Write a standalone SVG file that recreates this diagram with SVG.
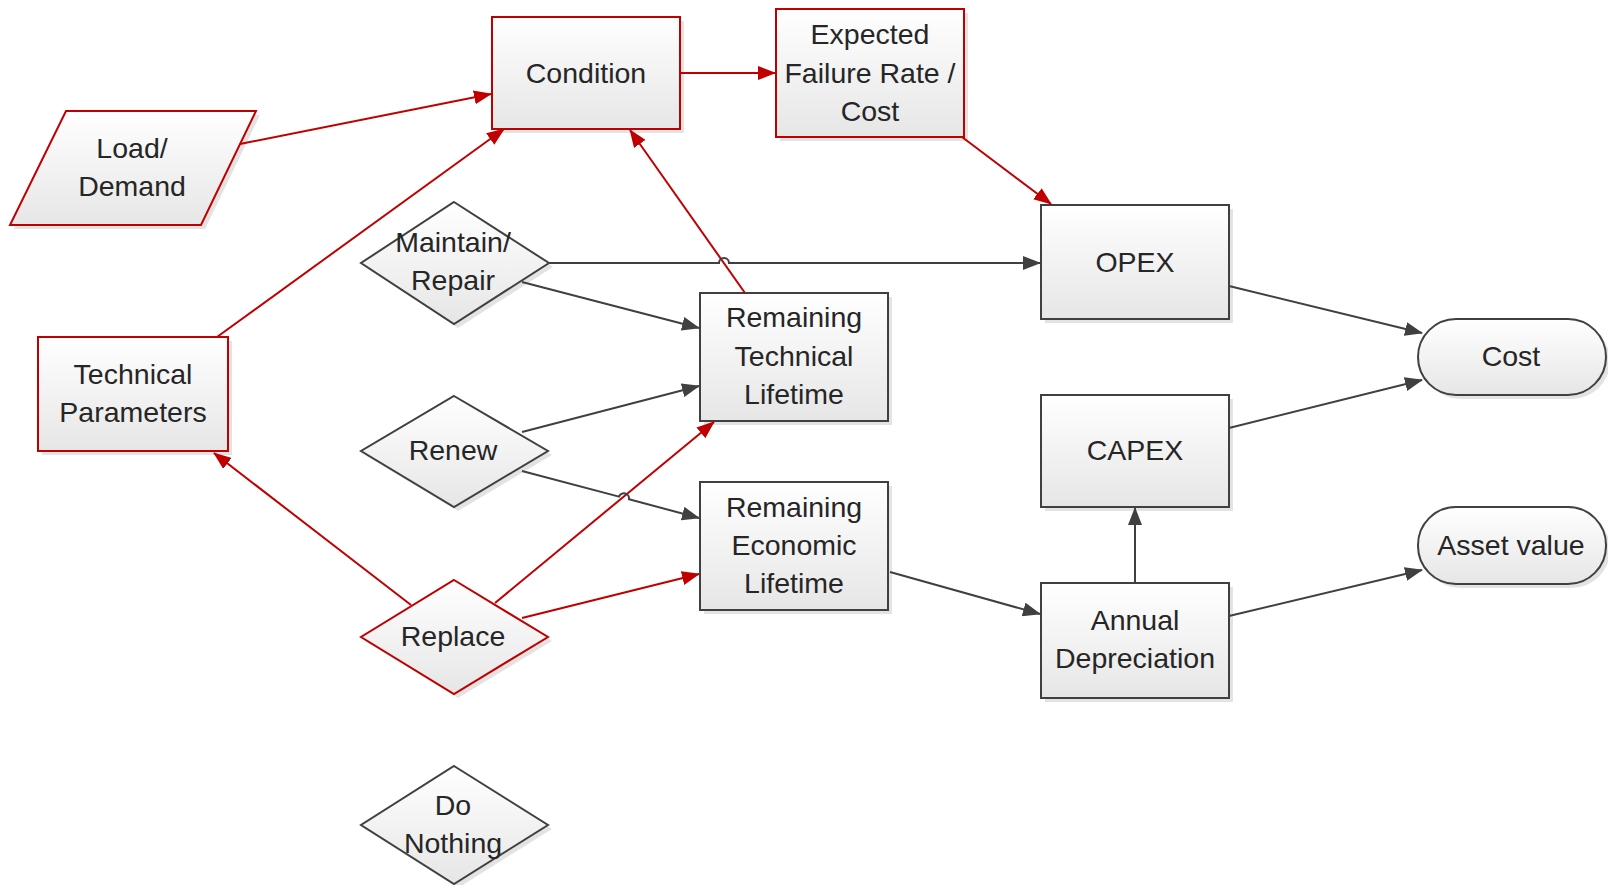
<svg xmlns="http://www.w3.org/2000/svg" width="1608" height="885" viewBox="0 0 1608 885">
<defs>
<linearGradient id="g" x1="0" y1="0" x2="0" y2="1">
<stop offset="0" stop-color="#ffffff"/>
<stop offset="1" stop-color="#e6e6e6"/>
</linearGradient>
<marker id="ar" markerUnits="userSpaceOnUse" markerWidth="18" markerHeight="14" refX="17" refY="7" orient="auto">
<path d="M0,0 L18,7 L0,14 z" fill="#c00000"/>
</marker>
<marker id="ag" markerUnits="userSpaceOnUse" markerWidth="18" markerHeight="14" refX="17" refY="7" orient="auto">
<path d="M0,0 L18,7 L0,14 z" fill="#404040"/>
</marker>
</defs>
<style>
.r{fill:url(#g);stroke:#c00000;stroke-width:2}
.k{fill:url(#g);stroke:#404040;stroke-width:2}
.sh{fill:#d0d0d0;opacity:0.6}
text{font-family:"Liberation Sans",Arial,sans-serif;font-size:28.5px;fill:#262626;text-anchor:middle}
.cr{fill:none;stroke:#c00000;stroke-width:2;marker-end:url(#ar)}
.cg{fill:none;stroke:#404040;stroke-width:2;marker-end:url(#ag)}
</style>
<rect width="1608" height="885" fill="#ffffff"/>

<g id="condition">
<rect class="sh" x="496" y="21" width="188" height="112"/>
<rect class="r" x="492" y="17" width="188" height="112"/>
<text x="586" y="83">Condition</text>
</g>
<g id="expected">
<rect class="sh" x="780" y="13" width="188" height="128"/>
<rect class="r" x="776" y="9" width="188" height="128"/>
<text x="870" y="44">Expected</text>
<text x="870" y="83">Failure Rate /</text>
<text x="870" y="121">Cost</text>
</g>
<g id="load">
<polygon class="sh" points="70,115 260,115 205,229 14,229"/>
<polygon class="r" points="66,111 256,111 201,225 10,225"/>
<text x="132" y="158">Load/</text>
<text x="132" y="196">Demand</text>
</g>
<g id="maintain">
<polygon class="sh" points="458,206 553,267 458,328 365,267"/>
<polygon class="k" points="454,202 549,263 454,324 361,263"/>
<text x="453" y="252">Maintain/</text>
<text x="453" y="290">Repair</text>
</g>
<g id="techparams">
<rect class="sh" x="42" y="341" width="190" height="114"/>
<rect class="r" x="38" y="337" width="190" height="114"/>
<text x="133" y="384">Technical</text>
<text x="133" y="422">Parameters</text>
</g>
<g id="renew">
<polygon class="sh" points="458,400 552,455 458,511 365,455"/>
<polygon class="k" points="454,396 548,451 454,507 361,451"/>
<text x="453" y="460">Renew</text>
</g>
<g id="replace">
<polygon class="sh" points="458,584 552,641 458,698 365,641"/>
<polygon class="r" points="454,580 548,637 454,694 361,637"/>
<text x="453" y="646">Replace</text>
</g>
<g id="donothing">
<polygon class="sh" points="458,770 552,829 458,888 365,829"/>
<polygon class="k" points="454,766 548,825 454,884 361,825"/>
<text x="453" y="815">Do</text>
<text x="453" y="853">Nothing</text>
</g>
<g id="rtl">
<rect class="sh" x="704" y="297" width="188" height="128"/>
<rect class="k" x="700" y="293" width="188" height="128"/>
<text x="794" y="327">Remaining</text>
<text x="794" y="366">Technical</text>
<text x="794" y="404">Lifetime</text>
</g>
<g id="rel">
<rect class="sh" x="704" y="486" width="188" height="128"/>
<rect class="k" x="700" y="482" width="188" height="128"/>
<text x="794" y="517">Remaining</text>
<text x="794" y="555">Economic</text>
<text x="794" y="593">Lifetime</text>
</g>
<g id="opex">
<rect class="sh" x="1045" y="209" width="188" height="114"/>
<rect class="k" x="1041" y="205" width="188" height="114"/>
<text x="1135" y="272">OPEX</text>
</g>
<g id="capex">
<rect class="sh" x="1045" y="399" width="188" height="112"/>
<rect class="k" x="1041" y="395" width="188" height="112"/>
<text x="1135" y="460">CAPEX</text>
</g>
<g id="annualdep">
<rect class="sh" x="1045" y="587" width="188" height="115"/>
<rect class="k" x="1041" y="583" width="188" height="115"/>
<text x="1135" y="630">Annual</text>
<text x="1135" y="668">Depreciation</text>
</g>
<g id="cost">
<rect class="sh" x="1422" y="323" width="188" height="76" rx="38" ry="38"/>
<rect class="k" x="1418" y="319" width="188" height="76" rx="38" ry="38"/>
<text x="1511" y="366">Cost</text>
</g>
<g id="assetvalue">
<rect class="sh" x="1422" y="511" width="188" height="77" rx="38" ry="38"/>
<rect class="k" x="1418" y="507" width="188" height="77" rx="38" ry="38"/>
<text x="1511" y="555">Asset value</text>
</g>

<g id="connectors">
<path class="cr" d="M240,144 L491,94"/>
<path class="cr" d="M217,337 L504,129"/>
<path class="cr" d="M745,293 L630,130"/>
<path class="cr" d="M680,73 L775,73"/>
<path class="cr" d="M962,137 L1051,204"/>
<path class="cr" d="M411,605 L214,453"/>
<path class="cr" d="M495,603 L714,422"/>
<path class="cr" d="M522,618 L699,574"/>
<path class="cg" d="M549,263 L719,263 A5,5 0 0 1 729,263 L1040,263"/>
<path class="cg" d="M522,282 L699,328"/>
<path class="cg" d="M522,432 L699,386"/>
<path class="cg" d="M522,471 L619,496.6 A5.2,5.2 0 0 1 629,499.2 L699,518"/>
<path class="cg" d="M1229,286 L1422,333"/>
<path class="cg" d="M1229,428 L1422,380"/>
<path class="cg" d="M890,572 L1040,614"/>
<path class="cg" d="M1135,583 L1135,508"/>
<path class="cg" d="M1229,616 L1422,570"/>
</g>
</svg>
